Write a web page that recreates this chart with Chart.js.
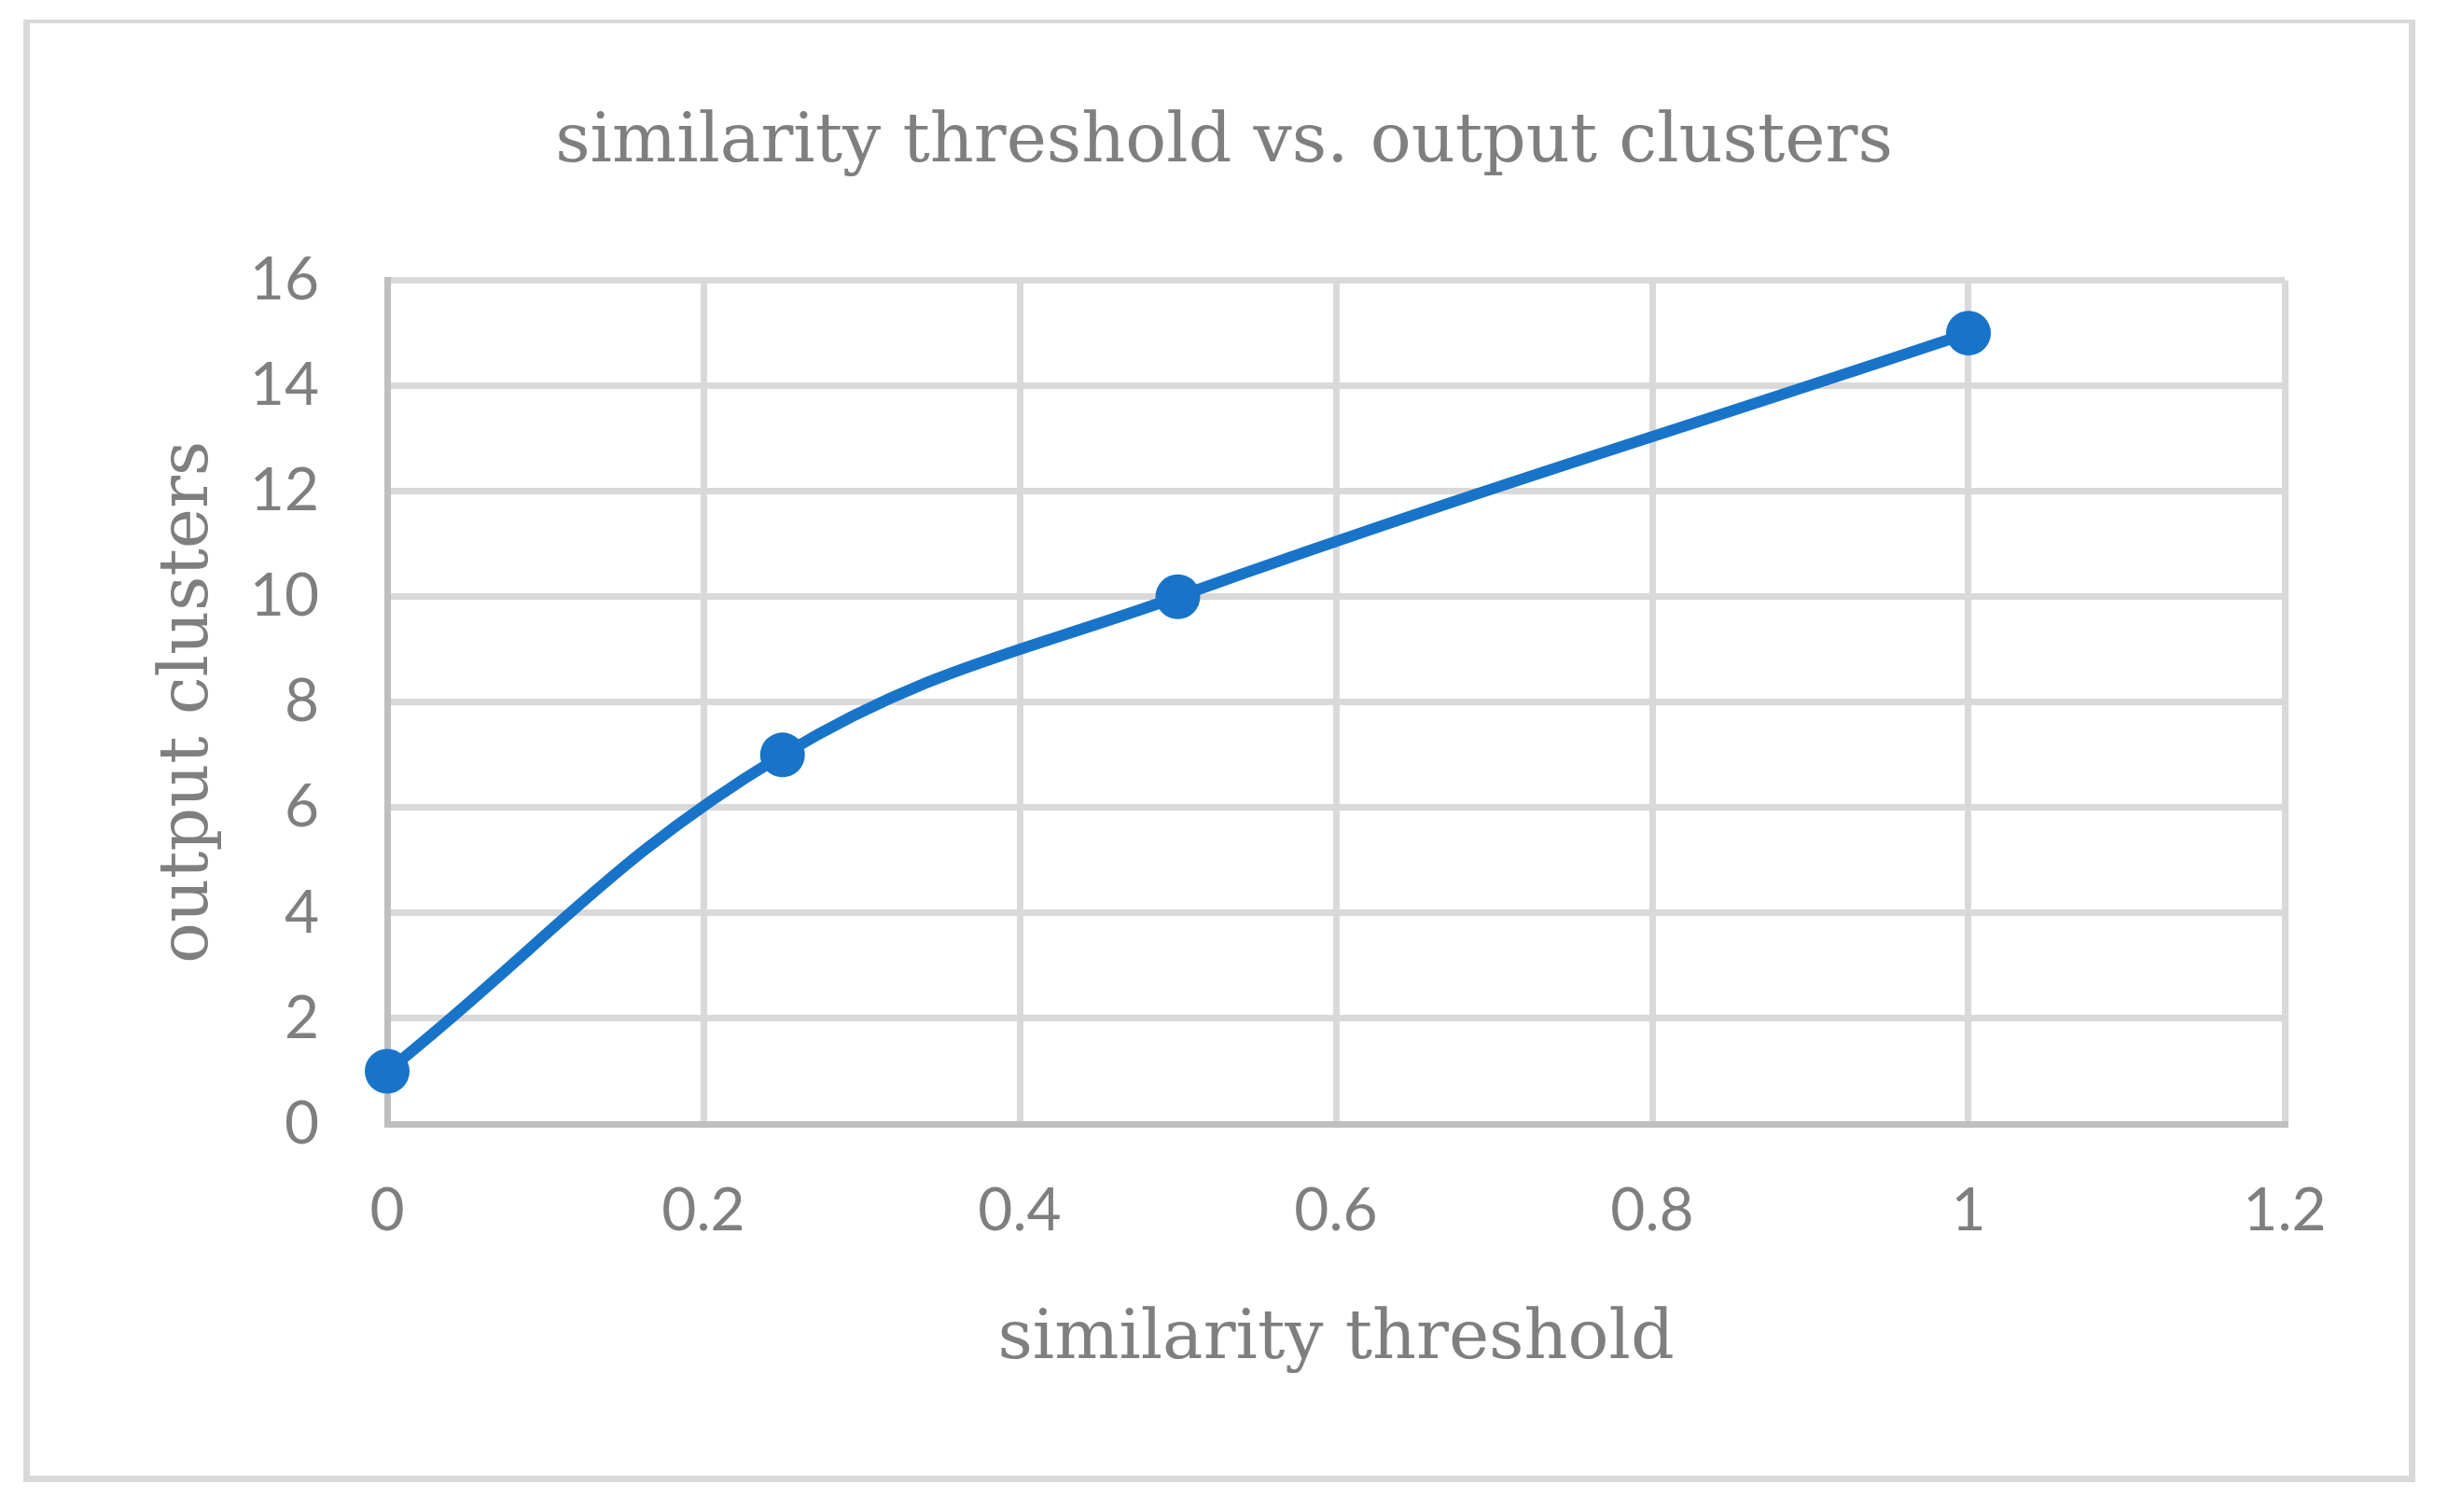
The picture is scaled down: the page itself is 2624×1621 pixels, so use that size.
<!DOCTYPE html>
<html>
<head>
<meta charset="utf-8">
<script src="https://cdn.jsdelivr.net/npm/chart.js@4.4.1/dist/chart.umd.min.js"></script>
<style>
  html, body { margin: 0; padding: 0; background: #ffffff; }
  #wrap { position: relative; width: 2624px; height: 1621px; }
</style>
</head>
<body>
<div id="wrap"><canvas id="c"></canvas></div>
<script>
// ---- data ----
const thresholds = [0, 0.25, 0.5, 1];
const clusters = [1, 7, 10, 15];
const xTickLabels = ['0', '0.2', '0.4', '0.6', '0.8', '1', '1.2'];
const yTickLabels = ['0', '2', '4', '6', '8', '10', '12', '14', '16'];
const chartTitle = 'similarity threshold vs. output clusters';
const xTitle = 'similarity threshold';
const yTitle = 'output clusters';

const points = thresholds.map((x, i) => ({ x: x, y: clusters[i] }));

const textGray = '#7f7f7f';
const gridGray = '#d9d9d9';
const axisGray = '#bfbfbf';
const lineBlue = 'rgb(24,116,200)';
const serif = '"DejaVu Serif", "Liberation Serif", serif';
const sans = 'Lato, "Open Sans", sans-serif';

const frame = {
  id: 'frame',
  beforeDraw(chart) {
    const ctx = chart.ctx;
    ctx.save();
    ctx.fillStyle = '#ffffff';
    ctx.fillRect(0, 0, chart.width, chart.height);
    ctx.fillStyle = gridGray;
    ctx.fillRect(25, 21, 2564, 4);      // top
    ctx.fillRect(25, 21, 7, 1568);      // left
    ctx.fillRect(2582, 21, 7, 1568);    // right
    ctx.fillRect(25, 1582, 2564, 7);    // bottom
    ctx.restore();
  }
};

new Chart(document.getElementById('c'), {
  type: 'line',
  data: {
    datasets: [{
      data: points,
      borderColor: lineBlue,
      backgroundColor: lineBlue,
      borderWidth: 12,
      pointRadius: 24,
      pointHoverRadius: 24,
      pointBorderWidth: 0,
      pointBackgroundColor: lineBlue,
      tension: 0.4,
      fill: false,
      clip: false
    }]
  },
  options: {
    responsive: true,
    maintainAspectRatio: false,
    devicePixelRatio: 1,
    animation: false,
    events: [],
    layout: { padding: 0 },
    plugins: {
      legend: { display: false },
      tooltip: { enabled: false },
      title: {
        display: true,
        text: chartTitle,
        color: textGray,
        font: { family: serif, size: 73, weight: 'normal', lineHeight: 1.2 },
        padding: { top: 110, bottom: 103 }
      }
    },
    scales: {
      x: {
        type: 'linear',
        position: 'bottom',
        min: 0,
        max: 1.2,
        afterFit(scale) { scale.height = 416; },
        ticks: {
          stepSize: 0.2,
          color: textGray,
          font: { family: sans, size: 64, lineHeight: 1.2 },
          padding: 55,
          maxRotation: 0,
          autoSkip: false,
          callback: (v, i) => xTickLabels[i]
        },
        grid: { color: gridGray, lineWidth: 7, drawTicks: false },
        border: { display: true, color: axisGray, width: 7 },
        title: {
          display: true,
          text: xTitle,
          color: textGray,
          font: { family: serif, size: 73, lineHeight: 1.2 },
          padding: { top: 0, bottom: 140 }
        }
      },
      y: {
        type: 'linear',
        position: 'left',
        min: 0,
        max: 16,
        afterFit(scale) { scale.width = 415; },
        ticks: {
          stepSize: 2,
          color: textGray,
          font: { family: sans, size: 64, lineHeight: 1.2 },
          padding: 73,
          autoSkip: false,
          callback: (v, i) => yTickLabels[i]
        },
        grid: { color: gridGray, lineWidth: 7, drawTicks: false },
        border: { display: true, color: axisGray, width: 7 },
        title: {
          display: true,
          text: yTitle,
          color: textGray,
          font: { family: serif, size: 73, lineHeight: 1.2 },
          padding: { top: 159, bottom: 0 }
        }
      },
      spacer: {
        type: 'linear',
        position: 'right',
        display: true,
        afterFit(scale) { scale.width = 175; },
        ticks: { display: false },
        grid: { display: false, drawTicks: false },
        border: { display: false }
      }
    }
  },
  plugins: [frame]
});
</script>
</body>
</html>
